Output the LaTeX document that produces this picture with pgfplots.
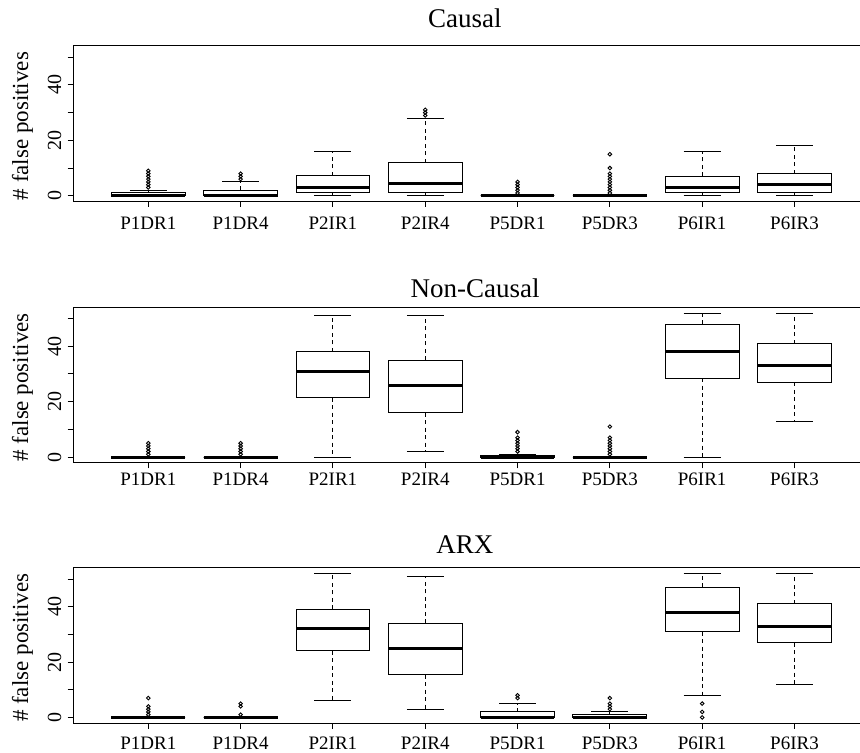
\documentclass[border=0pt]{standalone}
\usepackage{pgfplots}
\pgfplotsset{compat=1.18}
\usepgfplotslibrary{statistics}
\usepackage{fontspec}
\setmainfont{Liberation Serif}
\pgfplotsset{
  rbox/.style={
    scale only axis, width=393.5pt, height=77.75pt,
    xmin=0.184, xmax=8.71, ymin=-2.08, ymax=54.08,
    axis x line*=box, axis y line*=left, y axis line style={-},
    axis line style={line width=0.5pt, black},
    xtick={1,...,8},
    xticklabels={P1DR1,P1DR4,P2IR1,P2IR4,P5DR1,P5DR3,P6IR1,P6IR3},
    ytick={0,10,20,30,40,50}, yticklabels={0,,20,,40,},
    xtick pos=left, ytick pos=left,
    tick align=outside, major tick length=2.75pt,
    tick style={line width=0.5pt, black},
    xticklabel style={font=\fontsize{9.5}{11}\selectfont, anchor=base},
    yticklabel style={font=\fontsize{10}{12}\selectfont, xshift=-3.25pt, rotate=90, anchor=base},
    ylabel={\# false positives},
    every axis y label/.style={at={(axis description cs:-0.057,0.485)}, rotate=90, anchor=base, font=\fontsize{11.5}{13}\selectfont},
    boxplot/draw direction=y,
    boxplot/box extend=0.8,
    boxplot/whisker extend=0.4,
    boxplot/every box/.style={draw=black, line width=0.5pt},
    boxplot/every median/.style={draw=black, line width=1.5pt},
    boxplot/draw/lower whisker/.code={%
      \draw[black, line width=0.5pt, dash pattern=on 2pt off 1.75pt]
        (boxplot cs:\pgfplotsboxplotvalue{lower quartile}) -- (boxplot cs:\pgfplotsboxplotvalue{lower whisker});
      \draw[black, line width=0.5pt]
        (boxplot whisker cs:\pgfplotsboxplotvalue{lower whisker},0) -- (boxplot whisker cs:\pgfplotsboxplotvalue{lower whisker},1);
    },
    boxplot/draw/upper whisker/.code={%
      \draw[black, line width=0.5pt, dash pattern=on 2pt off 1.75pt]
        (boxplot cs:\pgfplotsboxplotvalue{upper quartile}) -- (boxplot cs:\pgfplotsboxplotvalue{upper whisker});
      \draw[black, line width=0.5pt]
        (boxplot whisker cs:\pgfplotsboxplotvalue{upper whisker},0) -- (boxplot whisker cs:\pgfplotsboxplotvalue{upper whisker},1);
    },
  },
  bpst/.style={black, solid, mark=o, mark size=0.9pt, mark options={solid, line width=0.45pt}},
}
\newcommand{\bp}[6]{\addplot[bpst, boxplot prepared={draw position=#1, lower whisker=#2, lower quartile=#3, median=#4, upper quartile=#5, upper whisker=#6}]}
\begin{document}
\begin{tikzpicture}
\path[use as bounding box] (0,0) rectangle (430pt,-376.5pt);
% ---------------- Causal
\begin{axis}[rbox, at={(36.5pt,-23pt)}, anchor=north west,
  xticklabel style={yshift=-11.05pt},
  title={Causal},
  title style={at={(axis description cs:0.498,1)}, anchor=base, yshift=3.15pt, font=\fontsize{13.5}{16}\selectfont}]
\bp{1}{0}{0}{0}{1}{2} table[row sep=\\, y index=0]{data\\ 3\\ 4\\ 5\\ 6\\ 7\\ 8\\ 9\\};
\bp{2}{0}{0}{0}{2}{5} table[row sep=\\, y index=0]{data\\ 6\\ 7\\ 8\\};
\bp{3}{0}{1}{3}{7.25}{16} coordinates {};
\bp{4}{0}{1}{4.5}{12}{28} table[row sep=\\, y index=0]{data\\ 29\\ 30\\ 31\\};
\bp{5}{0}{0}{0}{0}{0} table[row sep=\\, y index=0]{data\\ 1\\ 2\\ 3\\ 4\\ 5\\};
\bp{6}{0}{0}{0}{0}{0} table[row sep=\\, y index=0]{data\\ 1\\ 2\\ 3\\ 4\\ 5\\ 6\\ 7\\ 8\\ 10\\ 15\\};
\bp{7}{0}{1}{3}{7}{16} coordinates {};
\bp{8}{0}{1}{4}{8}{18} coordinates {};
\end{axis}
% ---------------- Non-Causal
\begin{axis}[rbox, at={(36.5pt,-153.65pt)}, anchor=north west,
  xticklabel style={yshift=-8.6pt},
  title={Non-Causal},
  title style={at={(axis description cs:0.511,1)}, anchor=base, yshift=-1pt, font=\fontsize{13.5}{16}\selectfont}]
\bp{1}{0}{0}{0}{0}{0} table[row sep=\\, y index=0]{data\\ 1\\ 2\\ 3\\ 4\\ 5\\};
\bp{2}{0}{0}{0}{0}{0} table[row sep=\\, y index=0]{data\\ 1\\ 2\\ 3\\ 4\\ 5\\};
\bp{3}{0}{21.5}{31}{38}{51} coordinates {};
\bp{4}{2}{16}{26}{35}{51} coordinates {};
\bp{5}{0}{0}{0}{0.5}{1} table[row sep=\\, y index=0]{data\\ 2\\ 3\\ 4\\ 5\\ 6\\ 7\\ 9\\};
\bp{6}{0}{0}{0}{0}{0} table[row sep=\\, y index=0]{data\\ 1\\ 2\\ 3\\ 4\\ 5\\ 6\\ 7\\ 11\\};
\bp{7}{0}{28.5}{38}{48}{52} coordinates {};
\bp{8}{13}{27}{33}{41}{52} coordinates {};
\end{axis}
% ---------------- ARX
\begin{axis}[rbox, at={(36.5pt,-283.85pt)}, anchor=north west,
  xticklabel style={yshift=-10.4pt},
  title={ARX},
  title style={at={(axis description cs:0.498,1)}, anchor=base, yshift=1.15pt, font=\fontsize{13.5}{16}\selectfont}]
\bp{1}{0}{0}{0}{0}{0} table[row sep=\\, y index=0]{data\\ 1\\ 2\\ 3\\ 4\\ 7\\};
\bp{2}{0}{0}{0}{0}{0} table[row sep=\\, y index=0]{data\\ 1\\ 4\\ 5\\};
\bp{3}{6}{24}{32}{39}{52} coordinates {};
\bp{4}{3}{15.5}{25}{34}{51} coordinates {};
\bp{5}{0}{0}{0}{2}{5} table[row sep=\\, y index=0]{data\\ 7\\ 8\\};
\bp{6}{0}{0}{0}{1}{2} table[row sep=\\, y index=0]{data\\ 3\\ 4\\ 5\\ 7\\};
\bp{7}{8}{31}{38}{47}{52} table[row sep=\\, y index=0]{data\\ 0\\ 2\\ 5\\};
\bp{8}{12}{27}{33}{41}{52} coordinates {};
\end{axis}
\end{tikzpicture}
\end{document}
